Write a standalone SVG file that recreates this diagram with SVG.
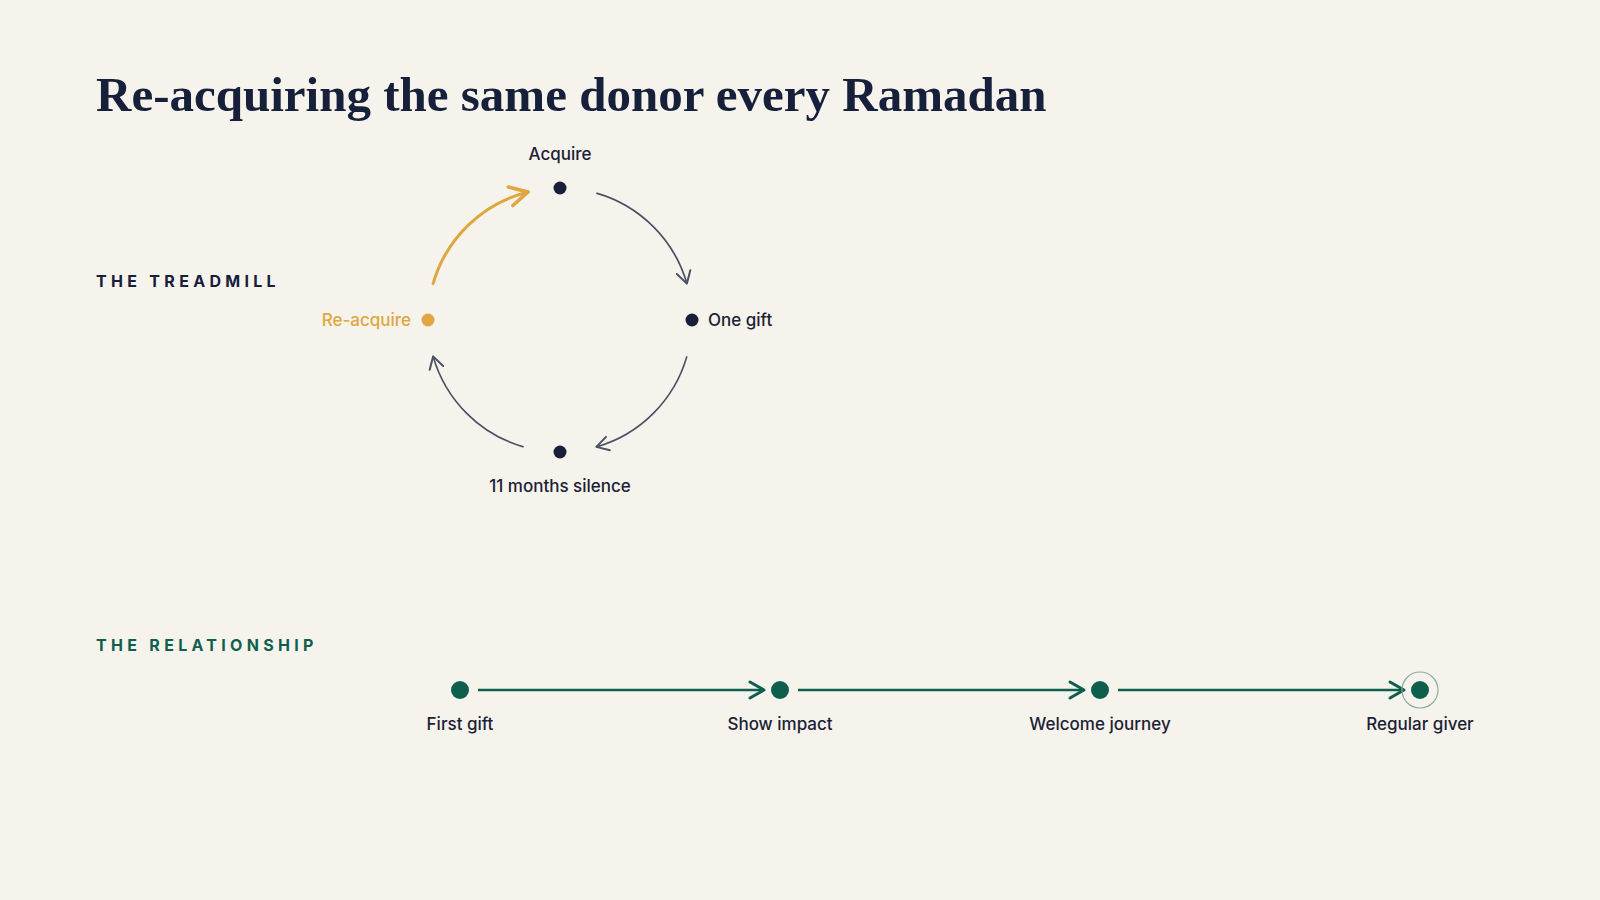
<svg xmlns="http://www.w3.org/2000/svg" width="1600" height="900" viewBox="0 0 1600 900">
  <style>
    .title { font-family: "Liberation Serif", "DejaVu Serif", serif; font-weight: 700; font-size: 49px; fill: #16203a; }
    .section { font-family: Inter, "Noto Sans", sans-serif; font-weight: 700; font-size: 16px; letter-spacing: 4.3px; }
    .lbl { font-family: Inter, "Noto Sans", sans-serif; font-weight: 500; font-size: 17px; fill: #1b2236; }
    .dot { fill: #16203a; }
    .gold { fill: #e0a640; }
    .green { fill: #0f5f4f; }
    .arc { fill: none; stroke: #4b5164; stroke-width: 1.7; }
    .arcgold { fill: none; stroke: #e0a640; stroke-width: 3; stroke-linecap: round; }
    .tl { fill: none; stroke: #0f5f4f; stroke-width: 2.6; }
  </style>
  <defs>
    <marker id="mGray" markerUnits="userSpaceOnUse" viewBox="-16 -10 20 20" refX="0" refY="0" markerWidth="20" markerHeight="20" orient="auto" overflow="visible">
      <path d="M-12,-7 L0,0 L-12,7" fill="none" stroke="#4b5164" stroke-width="2" stroke-linecap="round" stroke-linejoin="round"/>
    </marker>
    <marker id="mGold" markerUnits="userSpaceOnUse" viewBox="-22 -12 26 24" refX="0" refY="0" markerWidth="26" markerHeight="24" orient="auto" overflow="visible">
      <path d="M-18,-9.5 L0,0 L-18,9.5" fill="none" stroke="#e0a640" stroke-width="3.6" stroke-linecap="round" stroke-linejoin="round"/>
    </marker>
    <marker id="mGreen" markerUnits="userSpaceOnUse" viewBox="-18 -11 22 22" refX="0" refY="0" markerWidth="22" markerHeight="22" orient="auto" overflow="visible">
      <path d="M-14,-8 L0,0 L-14,8" fill="none" stroke="#0f5f4f" stroke-width="3" stroke-linecap="round" stroke-linejoin="round"/>
    </marker>
  </defs>

  <rect x="0" y="0" width="1600" height="900" fill="#f6f3ec"/>

  <text class="title" x="96" y="111">Re-acquiring the same donor every Ramadan</text>

  <text class="section" x="96" y="287" fill="#16203a">THE TREADMILL</text>
  <text class="section" x="96" y="651" fill="#0f5f4f">THE RELATIONSHIP</text>

  <g id="connectors">
    <path class="arc" d="M596.38,193.11 A132,132 0 0 1 686.89,283.62" marker-end="url(#mGray)"/>
    <path class="arc" d="M686.89,356.38 A132,132 0 0 1 596.38,446.89" marker-end="url(#mGray)"/>
    <path class="arc" d="M523.62,446.89 A132,132 0 0 1 433.11,356.38" marker-end="url(#mGray)"/>
    <path class="arcgold" d="M433.11,283.62 A132,132 0 0 1 528.07,191.92" marker-end="url(#mGold)"/>
    <line class="tl" x1="478" y1="690" x2="764" y2="690" marker-end="url(#mGreen)"/>
    <line class="tl" x1="798" y1="690" x2="1084" y2="690" marker-end="url(#mGreen)"/>
    <line class="tl" x1="1118" y1="690" x2="1404" y2="690" marker-end="url(#mGreen)"/>
  </g>

  <g id="node-acquire">
    <circle class="dot" cx="560" cy="188" r="6.5"/>
    <text class="lbl" x="560" y="160" text-anchor="middle">Acquire</text>
  </g>
  <g id="node-one-gift">
    <circle class="dot" cx="692" cy="320" r="6.5"/>
    <text class="lbl" x="708" y="326">One gift</text>
  </g>
  <g id="node-silence">
    <circle class="dot" cx="560" cy="452" r="6.5"/>
    <text class="lbl" x="560" y="492" text-anchor="middle">11 months silence</text>
  </g>
  <g id="node-reacquire">
    <circle class="gold" cx="428" cy="320" r="6.5"/>
    <text class="lbl" x="411" y="326" text-anchor="end" style="fill:#e0a640">Re-acquire</text>
  </g>

  <g id="node-first-gift">
    <circle class="green" cx="460" cy="690" r="9"/>
    <text class="lbl" x="460" y="730" text-anchor="middle">First gift</text>
  </g>
  <g id="node-show-impact">
    <circle class="green" cx="780" cy="690" r="9"/>
    <text class="lbl" x="780" y="730" text-anchor="middle">Show impact</text>
  </g>
  <g id="node-welcome-journey">
    <circle class="green" cx="1100" cy="690" r="9"/>
    <text class="lbl" x="1100" y="730" text-anchor="middle">Welcome journey</text>
  </g>
  <g id="node-regular-giver">
    <circle cx="1420" cy="690" r="18" fill="none" stroke="#8fab9f" stroke-width="1.2"/>
    <circle class="green" cx="1420" cy="690" r="9"/>
    <text class="lbl" x="1420" y="730" text-anchor="middle">Regular giver</text>
  </g>
</svg>
